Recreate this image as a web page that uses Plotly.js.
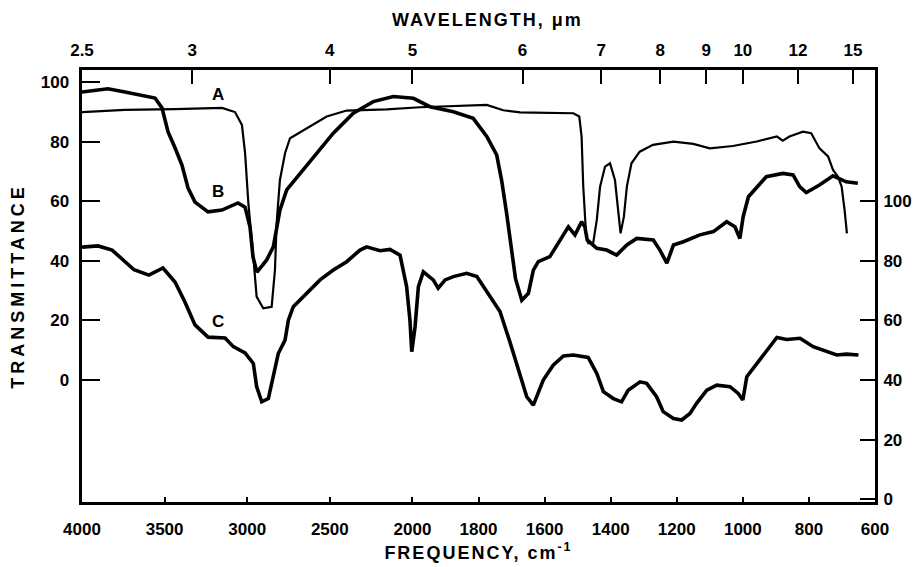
<!DOCTYPE html>
<html><head><meta charset="utf-8">
<script src="https://cdn.plot.ly/plotly-3.0.1.min.js"></script>
<style>
html,body{margin:0;padding:0;background:#fff}
text.gtitle{letter-spacing:2px}
text.xtitle{letter-spacing:2px}
text.ytitle{letter-spacing:4px}
</style>
</head><body><div id="chart" style="width:923px;height:567px"></div>
<script>
// Curve A (thin)
const freqA = [4000,3740,3437,3153,3074,3032,3013,2993,2963,2943,2903,2852,2832,2822,2802,2771,2741,2640,2519,2398,2156,1977,1876,1775,1725,1674,1634,1513,1495,1488,1483,1474,1468,1453,1442,1432,1417,1402,1387,1377,1370,1360,1351,1337,1312,1272,1210,1150,1100,1030,958,897,879,859,818,793,768,742,727,712,701,692,685];
const transA = [89.9,90.6,90.9,91.3,89.9,85.6,76.2,59.3,41.4,28,24.1,24.6,36.9,52.6,67.1,76.1,81.1,84.5,88.4,90.4,90.8,91.5,91.9,92.3,90.5,89.8,89.7,89.5,88.4,81.7,64.9,48.1,45.9,45.9,53.7,64.9,71.6,72.7,67.1,55.9,49.2,54.8,64.9,72.7,76.6,78.9,80,79.2,77.7,78.5,80,81.7,80.3,81.7,83.3,82.8,77.7,75,70.5,68.2,64.9,57,49.2];
// Curve B (left scale)
const freqB = [4000,3843,3740,3619,3558,3516,3479,3437,3395,3358,3316,3237,3153,3056,3013,2983,2965,2941,2882,2842,2802,2761,2680,2600,2479,2358,2237,2116,1997,1947,1876,1816,1775,1745,1730,1715,1700,1688,1669,1649,1634,1619,1584,1558,1528,1508,1488,1478,1471,1442,1412,1382,1351,1321,1271,1251,1230,1210,1180,1130,1089,1049,1024,1009,999,983,953,929,879,848,828,808,768,727,687,652];
const transB = [96.6,97.7,96.6,95.3,94.6,91.3,83.2,77.9,72.1,64.4,59.7,56.4,57,59.4,58,51.3,41.3,36.2,40.3,44.7,57,63.8,69.4,74.9,82.8,89.5,93.4,95.1,94.5,91.7,90,87.8,81.7,75.5,67,56,44,34,26.8,29.1,36.9,39.7,41.4,45.9,51.4,48.7,53.1,51.4,47,44.2,43.6,41.9,45.3,47.5,47,43.6,39.2,45.3,46.4,48.7,49.8,53.1,51.4,47.5,54.8,61.5,65.4,68.2,69.3,68.8,64.9,62.9,65.4,68.5,66.5,66];
// Curve C (right scale)
const freqC = [4000,3903,3818,3758,3685,3595,3510,3437,3377,3316,3237,3134,3084,3013,2963,2943,2912,2872,2842,2812,2771,2751,2721,2640,2559,2479,2398,2317,2277,2196,2136,2075,2035,2015,2004,1992,1982,1967,1937,1922,1901,1876,1836,1805,1775,1735,1705,1674,1654,1634,1619,1604,1574,1543,1513,1468,1442,1422,1392,1367,1347,1311,1291,1261,1241,1210,1185,1160,1140,1109,1079,1039,1014,1000,988,958,928,897,867,827,787,746,716,686,650];
const transC = [84.6,85,83.6,80.5,77,75.2,77.6,72.9,66.2,58.5,54.4,54.1,51.2,49.1,45.6,37.8,32.7,33.8,41.1,48.9,53.4,60.1,64.6,69.1,73.6,76.9,79.7,83.6,84.7,83.4,83.8,81.9,71.3,60.1,49.5,57.9,71.3,76.3,73.6,70.8,73.6,74.7,75.8,74.7,69.6,63,52.8,41.7,34.4,31.6,35.5,40,45,48.1,48.4,47.6,42.2,36.1,33.8,32.7,36.6,39.4,38.9,34.4,29.4,27.1,26.6,28.8,32.2,36.6,38.3,37.8,35.5,33.3,41.1,45.6,50.1,54.3,53.6,54,51.2,49.5,48.4,48.7,48.4];

const freqTicks = [4000,3500,3000,2500,2000,1800,1600,1400,1200,1000,800,600];
const wavelengthTicks = [2.5,3,4,5,6,7,8,9,10,12,15];
const transTicksLeft = [0,20,40,60,80,100];
const transTicksRight = [0,20,40,60,80,100];
const curveLabels = ['A','B','C'];
const labelFreq = [3177,3177,3177];
const labelTrans = [95.8,63.4,19.8];

// chart abscissa: 4000-2000 cm-1 at half the scale of 2000-600 cm-1
function toU(f){ return f >= 2000 ? (4000 - f) / 2000 : 1 + (2000 - f) / 1000; }

const FAM = 'Liberation Sans, Arial, sans-serif';
const tickFont = {family: FAM, size: 17, color: '#000', weight: 'bold'};
const titleFont = {family: FAM, size: 18, color: '#000', weight: 'bold'};
const Y1 = [-40.9, 104.0];
const Y2 = [Y1[0] + 40, Y1[1] + 40];
const XR = [0, toU(600)];

const traces = [
  {x: freqA.map(toU), y: transA, mode: 'lines', line: {color: '#000', width: 2.2}, xaxis: 'x', yaxis: 'y', hoverinfo: 'skip', name: 'A'},
  {x: freqB.map(toU), y: transB, mode: 'lines', line: {color: '#000', width: 3.6}, xaxis: 'x', yaxis: 'y', hoverinfo: 'skip', name: 'B'},
  {x: freqC.map(toU), y: transC, mode: 'lines', line: {color: '#000', width: 3.6}, xaxis: 'x2', yaxis: 'y2', hoverinfo: 'skip', name: 'C'}
];

const annotations = curveLabels.map((t, i) => ({
  x: toU(labelFreq[i]), y: labelTrans[i], xref: 'x', yref: 'y', text: t, showarrow: false,
  font: {family: FAM, size: 17, color: '#000', weight: 'bold'}
}));

const layout = {
  width: 923, height: 567,
  margin: {l: 82, r: 48, t: 70, b: 65},
  paper_bgcolor: '#fff', plot_bgcolor: '#fff',
  showlegend: false,
  title: {text: 'WAVELENGTH, μm', font: titleFont, x: 0.528, xanchor: 'center', y: 0.965, yanchor: 'middle'},
  xaxis: {
    range: XR, tickvals: freqTicks.map(toU), ticktext: freqTicks.map(String),
    ticks: 'inside', ticklen: 5, tickwidth: 2, tickcolor: '#000',
    showline: true, linewidth: 3, linecolor: '#000', showgrid: false, zeroline: false,
    tickfont: tickFont, ticklabelstandoff: 10,
    title: {text: 'FREQUENCY, cm<sup>-1</sup>', font: titleFont, standoff: 8}
  },
  xaxis2: {
    overlaying: 'x', side: 'top', anchor: 'y', range: XR,
    tickvals: wavelengthTicks.map(w => toU(10000 / w)), ticktext: wavelengthTicks.map(String),
    ticks: 'inside', ticklen: 14, tickwidth: 2, tickcolor: '#000',
    showline: true, linewidth: 3, linecolor: '#000', showgrid: false, zeroline: false,
    tickfont: tickFont, ticklabelstandoff: 4
  },
  yaxis: {
    range: Y1, tickvals: transTicksLeft, ticktext: transTicksLeft.map(String),
    ticks: 'inside', ticklen: 18, tickwidth: 2, tickcolor: '#000',
    showline: true, linewidth: 3.5, linecolor: '#000', showgrid: false, zeroline: false,
    tickfont: tickFont, ticklabelstandoff: 6,
    title: {text: 'TRANSMITTANCE', font: titleFont, standoff: 12}
  },
  yaxis2: {
    overlaying: 'y', side: 'right', anchor: 'x', range: Y2,
    tickvals: transTicksRight, ticktext: transTicksRight.map(String),
    ticks: 'inside', ticklen: 15, tickwidth: 2, tickcolor: '#000',
    showline: true, linewidth: 3, linecolor: '#000', showgrid: false, zeroline: false,
    tickfont: tickFont, ticklabelstandoff: 2
  },
  annotations: annotations
};

Plotly.newPlot('chart', traces, layout, {staticPlot: true, displayModeBar: false});
</script></body></html>
